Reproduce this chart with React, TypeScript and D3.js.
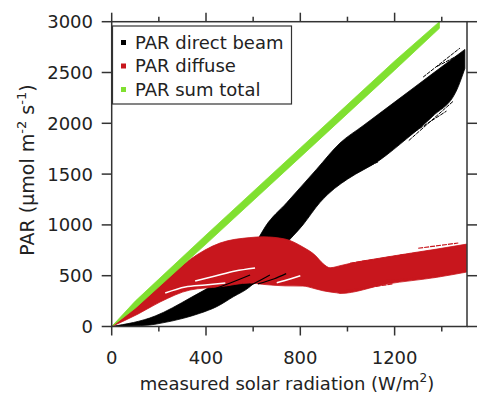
import React from 'react';
import * as d3 from 'd3';

const W = 477;
const H = 394;

// axis settings
const xMax = 1507;
const yMax = 3000;
const xMajorTicks = [0, 400, 800, 1200];
const xMinorTicks = [200, 600, 1000, 1400];
const yTicks = [0, 500, 1000, 1500, 2000, 2500, 3000];

// PAR sum total (green) band
const greenX = [0, 100, 400, 800, 1200, 1390];
const greenLo = [0, 180, 811, 1667, 2523, 2935];
const greenHi = [0, 250, 901, 1757, 2613, 3000];

// PAR direct beam (black) band edges
const blackUpperX = [0, 184, 332, 459, 565, 620, 651, 743, 869, 968, 1066, 1210, 1350, 1464, 1498];
const blackUpperY = [0, 103, 280, 457, 674, 860, 981, 1220, 1548, 1805, 1976, 2226, 2470, 2668, 2727];
const blackLowerX = [0, 162, 205, 304, 374, 445, 516, 586, 657, 728, 811, 883, 946, 1000, 1138, 1252, 1362, 1464, 1498];
const blackLowerY = [0, 15, 31, 81, 130, 195, 293, 391, 572, 785, 1000, 1220, 1360, 1450, 1640, 1850, 2070, 2330, 2540];

// PAR diffuse (red) band edges
const redX = [0, 112, 205, 332, 459, 586, 641, 735, 811, 862, 896, 926, 955, 968, 1167, 1379, 1506];
const redHi = [0, 215, 410, 660, 821, 875, 883, 861, 782, 703, 620, 578, 590, 598, 684, 762, 811];
const redLo = [0, 123, 241, 359, 391, 428, 415, 400, 398, 372, 352, 340, 331, 325, 418, 484, 536];

// streaks (scattered runs of points)
const blackStreaks: [number, number][][] = [
  [[1000, 1490], [1130, 1620]],
  [[1180, 1760], [1420, 2120]],
  [[1321, 2455], [1477, 2740]],
  [[1380, 2560], [1495, 2700]],
  [[1260, 1830], [1450, 2220]],
];
const redStreaks: [number, number][][] = [
  [[1011, 622], [1237, 705]],
  [[1222, 700], [1456, 780]],
  [[1109, 441], [1392, 495]],
  [[968, 345], [1194, 420]],
  [[1300, 770], [1470, 822]],
  [[1350, 500], [1500, 545]],
];
const gapStreaks: [number, number][][] = [
  [[227, 330], [312, 389], [397, 408], [482, 428]],
  [[354, 448], [439, 497], [524, 546], [608, 576]],
  [[700, 430], [760, 470], [800, 500]],
];
const throughStreaks: [number, number][][] = [
  [[397, 338], [503, 428], [587, 507]],
  [[545, 359], [608, 428], [671, 507]],
  [[620, 420], [690, 470], [740, 520]],
];

// legend
const legendLabels = ['PAR direct beam', 'PAR diffuse', 'PAR sum total'];
const legendColors = ['#000000', '#c8161d', '#80e030'];

const FONT = 'DejaVu Sans, sans-serif';

export default function App() {
  const x = d3.scaleLinear().domain([0, xMax]).range([111.7, 467]);
  const y = d3.scaleLinear().domain([0, yMax]).range([326.5, 21.7]);
  const left = x(0), right = x(xMax), top = y(yMax), bottom = y(0);

  const smooth = d3
    .line<[number, number]>()
    .x((d) => x(d[0]))
    .y((d) => y(d[1]))
    .curve(d3.curveMonotoneX);
  const straight = d3
    .line<[number, number]>()
    .x((d) => x(d[0]))
    .y((d) => y(d[1]));

  const band = (
    gen: d3.Line<[number, number]>,
    ux: number[], uy: number[], lx: number[], ly: number[]
  ) => {
    const up = ux.map((v, i) => [v, uy[i]] as [number, number]);
    const lo = lx.map((v, i) => [v, ly[i]] as [number, number]).reverse();
    const a = gen(up) || '';
    const b = (gen(lo) || '').replace(/^M/, 'L');
    return a + b + 'Z';
  };

  const greenPath = band(straight, greenX, greenHi, greenX, greenLo);
  const blackPath = band(smooth, blackUpperX, blackUpperY, blackLowerX, blackLowerY);
  const redPath = band(smooth, redX, redHi, redX, redLo);

  const tickColor = '#333';
  const textColor = '#222';

  return (
    <svg
      width={W}
      height={H}
      style={{ position: 'absolute', left: 0, top: 0, background: '#fff' }}
      fontFamily={FONT}
    >
      <defs>
        <clipPath id="plot">
          <rect x={left} y={top} width={right - left} height={bottom - top} />
        </clipPath>
      </defs>
      <g clipPath="url(#plot)">
        <path d={blackPath} fill="#000" stroke="#000" strokeWidth={0.8} />
        {blackStreaks.map((s, i) => (
          <path key={'b' + i} d={straight(s) || ''} stroke="#000" strokeWidth={1} strokeDasharray="4 1" fill="none" />
        ))}
        <path d={redPath} fill={legendColors[1]} stroke={legendColors[1]} strokeWidth={0.8} />
        {redStreaks.map((s, i) => (
          <path key={'r' + i} d={straight(s) || ''} stroke={legendColors[1]} strokeWidth={1.2} strokeDasharray="5 1" fill="none" />
        ))}
        {gapStreaks.map((s, i) => (
          <path key={'g' + i} d={smooth(s) || ''} stroke="#fff" strokeWidth={1.5} fill="none" />
        ))}
        {throughStreaks.map((s, i) => (
          <path key={'t' + i} d={smooth(s) || ''} stroke="#000" strokeWidth={1.2} fill="none" />
        ))}
        <path d={greenPath} fill={legendColors[2]} stroke={legendColors[2]} strokeWidth={0.8} />
      </g>

      {/* frame */}
      <rect x={left} y={top} width={right - left} height={bottom - top} fill="none" stroke={tickColor} strokeWidth={1.5} />

      {/* x ticks bottom and top */}
      {xMajorTicks.map((t) => (
        <g key={'xm' + t}>
          <line x1={x(t)} x2={x(t)} y1={bottom} y2={bottom + 9} stroke={tickColor} strokeWidth={1.5} />
          <line x1={x(t)} x2={x(t)} y1={top} y2={top - 9} stroke={tickColor} strokeWidth={1.5} />
          <text x={x(t)} y={364} textAnchor="middle" fontSize={18} fill={textColor}>
            {t}
          </text>
        </g>
      ))}
      {xMinorTicks.map((t) => (
        <g key={'xn' + t}>
          <line x1={x(t)} x2={x(t)} y1={bottom} y2={bottom + 5} stroke={tickColor} strokeWidth={1.5} />
          <line x1={x(t)} x2={x(t)} y1={top} y2={top - 5} stroke={tickColor} strokeWidth={1.5} />
        </g>
      ))}
      {/* y ticks left and right */}
      {yTicks.map((t) => (
        <g key={'y' + t}>
          <line x1={left} x2={left - 10} y1={y(t)} y2={y(t)} stroke={tickColor} strokeWidth={1.5} />
          <line x1={right} x2={right + 10} y1={y(t)} y2={y(t)} stroke={tickColor} strokeWidth={1.5} />
          <text x={93} y={y(t) + 6.5} textAnchor="end" fontSize={18} fill={textColor}>
            {t}
          </text>
        </g>
      ))}

      {/* axis titles */}
      <text x={287} y={390} textAnchor="middle" fontSize={18} fill={textColor}>
        measured solar radiation (W/m<tspan dy={-8} fontSize={12}>2</tspan>
        <tspan dy={8}>)</tspan>
      </text>
      <text transform="translate(34,170) rotate(-90)" textAnchor="middle" fontSize={19} fill={textColor}>
        PAR (μmol m<tspan dy={-8} fontSize={13}>-2</tspan>
        <tspan dy={8}> s</tspan>
        <tspan dy={-8} fontSize={13}>-1</tspan>
        <tspan dy={8}>)</tspan>
      </text>

      {/* legend */}
      <rect x={112.5} y={26} width={179} height={78} fill="#fff" stroke={tickColor} strokeWidth={1.2} />
      {legendLabels.map((l, i) => (
        <g key={l}>
          <rect x={121} y={40 + i * 23.5} width={5} height={5} fill={legendColors[i]} />
          <text x={135} y={48.8 + i * 23.5} fontSize={18} fill={textColor}>
            {l}
          </text>
        </g>
      ))}
    </svg>
  );
}
